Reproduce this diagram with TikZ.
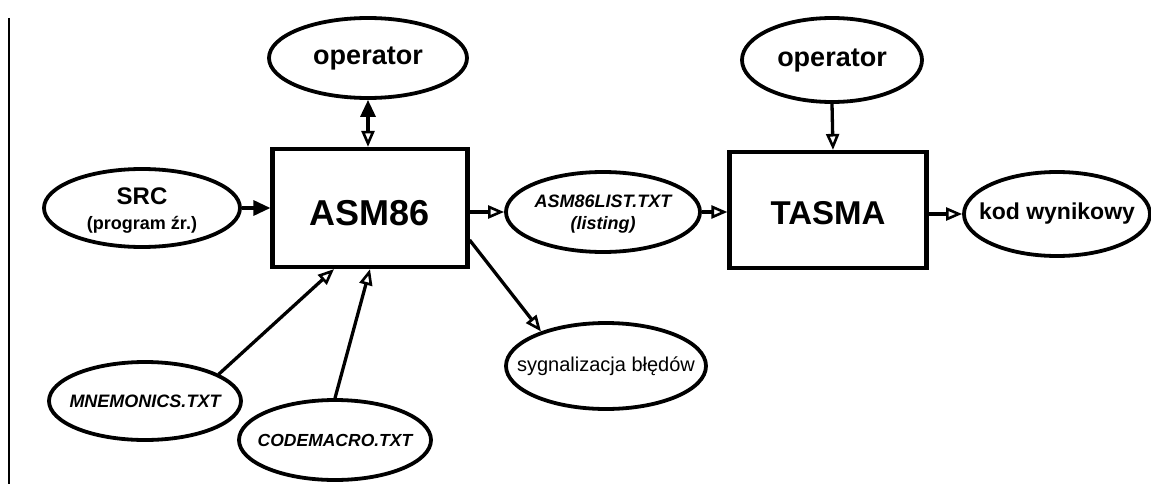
\documentclass[tikz,border=0pt]{standalone}
\usepackage{fontspec}
\setmainfont{Liberation Sans}
\usetikzlibrary{shapes.geometric,arrows.meta}
\tikzset{
  otip/.tip={Triangle[open,length=16pt,width=13pt,line width=2.6pt]},
  ftip/.tip={Triangle[length=17pt,width=15pt]},
}
\begin{document}
\begin{tikzpicture}[x=1pt,y=-1pt,
  oval/.style={draw, ellipse, line width=3.8pt, inner sep=0pt},
  blk/.style={draw, rectangle, line width=4.2pt, inner sep=0pt},
  lbl/.style={inner sep=0pt, align=center},
  conn/.style={line width=3.3pt},
  edge/.style={line width=1.6pt}]
\useasboundingbox (0,0) rectangle (1151,484);
\draw[edge] (9,18) -- (9,484);

\node[oval, minimum width=198pt, minimum height=80pt,
  label={[lbl, font=\bfseries\fontsize{27}{30}\selectfont]center:operator}] (op1) at (368,58) {};
\node[blk, minimum width=195pt, minimum height=118pt,
  label={[lbl, font=\bfseries\fontsize{36}{40}\selectfont, yshift=-5pt]center:ASM86}] (asm) at (370,208) {};
\node[oval, minimum width=196pt, minimum height=78pt,
  label={[lbl, font=\bfseries\fontsize{18}{25}\selectfont, yshift=-3pt]center:{\fontsize{24}{24}\selectfont SRC\\(program źr.)}}] (src) at (142,208) {};
\node[oval, minimum width=194pt, minimum height=80pt,
  label={[lbl, font=\bfseries\itshape\fontsize{18}{22}\selectfont, yshift=-2pt]center:{ASM86LIST.TXT\\(listing)}}] (list) at (603,212) {};
\node[blk, minimum width=197pt, minimum height=116pt,
  label={[lbl, font=\bfseries\fontsize{33}{36}\selectfont, yshift=-3pt]center:TASMA}] (tasma) at (828,210) {};
\node[oval, minimum width=180pt, minimum height=84pt,
  label={[lbl, font=\bfseries\fontsize{27}{30}\selectfont]center:operator}] (op2) at (832,60) {};
\node[oval, minimum width=186pt, minimum height=84pt,
  label={[lbl, font=\bfseries\fontsize{23}{26}\selectfont]center:kod wynikowy}] (kod) at (1057,214) {};
\node[oval, minimum width=200pt, minimum height=86pt,
  label={[lbl, font=\fontsize{20}{22}\selectfont]center:sygnalizacja błędów}] (syg) at (606,366) {};
\node[oval, minimum width=192pt, minimum height=78pt,
  label={[lbl, font=\bfseries\itshape\fontsize{18}{20}\selectfont]center:MNEMONICS.TXT}] (mn) at (145,401) {};
\node[oval, minimum width=192pt, minimum height=80pt,
  label={[lbl, font=\bfseries\itshape\fontsize{17.5}{20}\selectfont]center:CODEMACRO.TXT}] (cm) at (335,440) {};

\draw[conn, -{ftip}] (src.east) -- (src.east -| asm.west);
\draw[conn, {ftip}-{otip}] (op1.south) -- (op1.south |- asm.north);
\draw[conn, -{otip}] (list.west -| asm.east) -- (list.west);
\draw[conn, -{otip}] (list.east) -- (list.east -| tasma.west);
\draw[conn, -{otip}] (op2.south) -- ([xshift=5pt]tasma.north);
\draw[conn, -{otip}] (kod.west -| tasma.east) -- (kod.west);
\draw[conn, -{otip}] ([yshift=-32pt]asm.east) -- (syg.152);
\draw[conn, -{otip}] (mn.20) -- ([xshift=-36pt]asm.south);
\draw[conn, -{otip}] (cm.north) -- (asm.south);
\end{tikzpicture}
\end{document}
